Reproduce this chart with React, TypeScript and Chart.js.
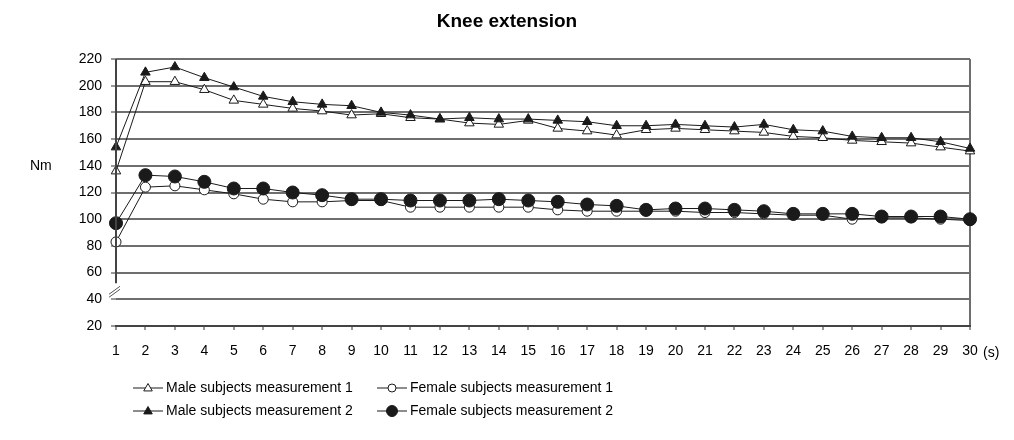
import React, { useEffect, useRef } from 'react';
import { Chart, registerables } from 'chart.js';

Chart.register(...registerables);

const SECONDS = ['1', '2', '3', '4', '5', '6', '7', '8', '9', '10', '11', '12', '13', '14', '15', '16', '17', '18', '19', '20', '21', '22', '23', '24', '25', '26', '27', '28', '29', '30'];

const MALE_M1 = [136, 203, 203, 197, 189, 186, 183, 181, 178, 179, 176, 175, 172, 171, 174, 168, 166, 163, 167, 168, 167, 166, 165, 162, 161, 159, 158, 157, 154, 151];
const MALE_M2 = [154, 210, 214, 206, 199, 192, 188, 186, 185, 180, 178, 175, 176, 175, 175, 174, 173, 170, 170, 171, 170, 169, 171, 167, 166, 162, 161, 161, 158, 153];
const FEMALE_M1 = [83, 124, 125, 122, 119, 115, 113, 113, 114, 114, 109, 109, 109, 109, 109, 107, 106, 106, 106, 106, 105, 105, 104, 103, 103, 100, 101, 101, 100, 99];
const FEMALE_M2 = [97, 133, 132, 128, 123, 123, 120, 118, 115, 115, 114, 114, 114, 115, 114, 113, 111, 110, 107, 108, 108, 107, 106, 104, 104, 104, 102, 102, 102, 100];

const SERIES_NAMES = [
  'Male subjects measurement 1',
  'Female subjects measurement 1',
  'Male subjects measurement 2',
  'Female subjects measurement 2',
];

const Y_MIN = 20;
const Y_MAX = 220;
const Y_STEP = 20;
const Y_BREAK_FROM = 52;

const TITLE = 'Knee extension';
const Y_TITLE = 'Nm';
const X_UNIT = '(s)';

const FONT = '"Liberation Sans", Arial, Helvetica, sans-serif';
const GRID = '#6e6e6e';
const INK = '#1a1a1a';

function drawMarker(ctx: CanvasRenderingContext2D, style: string, filled: boolean, cx: number, cy: number, r: number) {
  ctx.save();
  ctx.beginPath();
  if (style === 'triangle') {
    ctx.moveTo(cx, cy - r);
    ctx.lineTo(cx + r * 0.95, cy + r * 0.65);
    ctx.lineTo(cx - r * 0.95, cy + r * 0.65);
    ctx.closePath();
  } else {
    ctx.arc(cx, cy, r, 0, Math.PI * 2);
  }
  ctx.fillStyle = filled ? INK : '#ffffff';
  ctx.fill();
  ctx.lineWidth = 1;
  ctx.strokeStyle = INK;
  ctx.stroke();
  ctx.restore();
}

const decorPlugin = {
  id: 'decor',
  afterDraw(chart: any) {
    const ctx: CanvasRenderingContext2D = chart.ctx;
    const area = chart.chartArea;
    const y = chart.scales.y;
    ctx.save();

    // Title
    ctx.fillStyle = '#000';
    ctx.font = `bold 19px ${FONT}`;
    ctx.textAlign = 'center';
    ctx.textBaseline = 'middle';
    ctx.fillText(TITLE, 507, 22);

    // Y title
    ctx.font = `14px ${FONT}`;
    ctx.textAlign = 'left';
    ctx.fillText(Y_TITLE, 30, 166);

    // X unit
    ctx.fillText(X_UNIT, 983, 353);

    // Y axis line with break
    ctx.strokeStyle = '#444';
    ctx.lineWidth = 2;
    ctx.beginPath();
    ctx.moveTo(area.left, y.getPixelForValue(Y_MAX));
    ctx.lineTo(area.left, y.getPixelForValue(Y_BREAK_FROM));
    ctx.stroke();

    // break marks
    ctx.lineWidth = 1;
    ctx.strokeStyle = '#555';
    const by = y.getPixelForValue(Y_BREAK_FROM);
    for (let k = 0; k < 2; k++) {
      ctx.beginPath();
      ctx.moveTo(area.left - 7, by + 11 + k * 3);
      ctx.lineTo(area.left + 4, by + 3 + k * 3);
      ctx.stroke();
    }

    // Legend
    const datasets = chart.data.datasets;
    const colX = [133, 377];
    const rowY = [388, 411];
    datasets.forEach((ds: any, i: number) => {
      const col = i % 2;
      const row = Math.floor(i / 2);
      const x0 = colX[col];
      const y0 = rowY[row];
      ctx.strokeStyle = INK;
      ctx.lineWidth = 1;
      ctx.beginPath();
      ctx.moveTo(x0, y0);
      ctx.lineTo(x0 + 30, y0);
      ctx.stroke();
      const filled = ds.pointBackgroundColor !== '#ffffff';
      const r = ds.pointStyle === 'triangle' ? 4.5 : filled ? 5.5 : 4;
      drawMarker(ctx, ds.pointStyle, filled, x0 + 15, y0, r);
      ctx.fillStyle = '#000';
      ctx.font = `14px ${FONT}`;
      ctx.textAlign = 'left';
      ctx.textBaseline = 'middle';
      ctx.fillText(ds.label, x0 + 33, y0);
    });

    ctx.restore();
  },
};

export default function App() {
  const canvasRef = useRef<HTMLCanvasElement | null>(null);

  useEffect(() => {
    if (!canvasRef.current) return;
    const common = {
      borderColor: INK,
      borderWidth: 1,
      pointBorderColor: INK,
      pointBorderWidth: 1,
      tension: 0,
      fill: false,
    };
    const chart = new Chart(canvasRef.current, {
      type: 'line',
      data: {
        labels: SECONDS,
        datasets: [
          { ...common, label: SERIES_NAMES[0], data: MALE_M1, pointStyle: 'triangle', pointRadius: 5.5, pointBackgroundColor: '#ffffff', order: 2 },
          { ...common, label: SERIES_NAMES[1], data: FEMALE_M1, pointStyle: 'circle', pointRadius: 5, pointBackgroundColor: '#ffffff', order: 3 },
          { ...common, label: SERIES_NAMES[2], data: MALE_M2, pointStyle: 'triangle', pointRadius: 5.5, pointBackgroundColor: INK, order: 0 },
          { ...common, label: SERIES_NAMES[3], data: FEMALE_M2, pointStyle: 'circle', pointRadius: 6.5, pointBackgroundColor: INK, order: 1 },
        ] as any,
      },
      options: {
        responsive: false,
        animation: false,
        layout: { padding: { top: 59, left: 0, right: 44, bottom: 0 } },
        plugins: {
          legend: { display: false },
          title: { display: false },
          tooltip: { enabled: false },
        },
        scales: {
          x: {
            type: 'category',
            offset: false,
            grid: {
              drawOnChartArea: true,
              color: (c: any) => (c.index === SECONDS.length - 1 ? GRID : 'rgba(0,0,0,0)'),
              lineWidth: 2,
              tickColor: '#333',
              tickLength: 4,
              tickWidth: 1,
            },
            border: { display: true, color: '#444', width: 2 },
            ticks: {
              color: '#000',
              font: { family: FONT, size: 14 },
              padding: 13,
              maxRotation: 0,
              autoSkip: false,
            },
            afterFit: (s: any) => { s.height = 114; },
          },
          y: {
            min: Y_MIN,
            max: Y_MAX,
            grid: {
              color: GRID,
              lineWidth: 2,
              tickColor: '#333',
              tickLength: 5,
              tickWidth: 1,
            },
            border: { display: false },
            ticks: {
              stepSize: Y_STEP,
              color: '#000',
              font: { family: FONT, size: 14 },
              padding: 9,
            },
            afterFit: (s: any) => { s.width = 116; },
          },
        },
      } as any,
      plugins: [decorPlugin],
    });
    return () => chart.destroy();
  }, []);

  return (
    <div style={{ position: 'absolute', left: 0, top: 0, width: 1014, height: 440, background: '#fff' }}>
      <canvas ref={canvasRef} width={1014} height={440} style={{ display: 'block' }} />
    </div>
  );
}
